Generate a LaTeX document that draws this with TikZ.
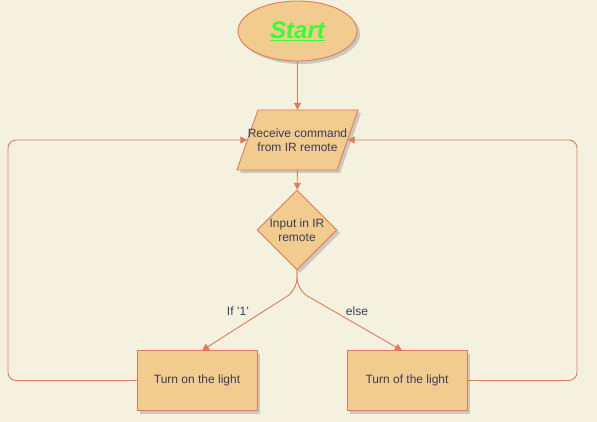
\documentclass[tikz,border=0pt]{standalone}
\usepackage{fontspec}
\setmainfont{Liberation Sans}
\usetikzlibrary{shapes.geometric,arrows.meta,shadows}
\definecolor{bgc}{HTML}{F4F1DE}
\definecolor{fillc}{HTML}{F2CC8F}
\definecolor{strokec}{HTML}{E07A5F}
\definecolor{textc}{HTML}{393C56}
\definecolor{startc}{HTML}{33FF33}
\tikzset{
  shad/.style={drop shadow={shadow xshift=3pt,shadow yshift=-3pt,opacity=0.35,fill=black!50}},
  shapebox/.style={draw=strokec,fill=fillc,line width=0.9pt,text=textc,font=\fontsize{12}{14}\selectfont,align=center,shad},
  conn/.style={draw=strokec,line width=0.9pt,-{Triangle[width=7pt,length=7pt]}},
  lbl/.style={text=textc,font=\fontsize{12}{14}\selectfont}
}
\begin{document}
\begin{tikzpicture}[x=1pt,y=-1pt]
\useasboundingbox[fill=bgc] (0,0) rectangle (597,422);
\node[shapebox,ellipse,minimum width=119,minimum height=60,inner sep=0,font=\fontsize{24}{28}\selectfont\bfseries\itshape,text=startc] (start) at (297.5,31) {\underline{Start}};
% parallelogram
\path[draw=strokec,fill=fillc,line width=0.9pt,shad] (258,110) -- (358,110) -- (337,170) -- (237,170) -- cycle;
\node[lbl,align=center,minimum width=100,minimum height=60,inner sep=0] (rcv) at (297.5,140) {Receive command\\from IR remote};
\node[shapebox,diamond,minimum width=80,minimum height=80,inner sep=0] (dec) at (297,230) {Input in IR\\remote};
\node[shapebox,minimum width=120,minimum height=60,inner sep=0] (on) at (197,380.5) {Turn on the light};
\node[shapebox,minimum width=120,minimum height=60,inner sep=0] (off) at (407,380.5) {Turn of the light};
\coordinate (onin) at (202,350.5);
\coordinate (offin) at (402,350.5);
\draw[conn] (start) -- (rcv);
\draw[conn] (rcv) -- (dec);
\draw[conn,rounded corners=12pt] (dec.south) -- (297,290) -- (onin);
\draw[conn,rounded corners=12pt] (dec.south) -- (297,290) -- (offin);
\node[lbl] (l1) at (238,311) {If '1'};
\node[lbl] (l2) at (357,311) {else};
\draw[conn,rounded corners=8pt] (on.west) -- (8,380.5) -- (8,140) -- (rcv.west);
\draw[conn,rounded corners=8pt] (off.east) -- (577,380.5) -- (577,140) -- (rcv.east);
\end{tikzpicture}
\end{document}
